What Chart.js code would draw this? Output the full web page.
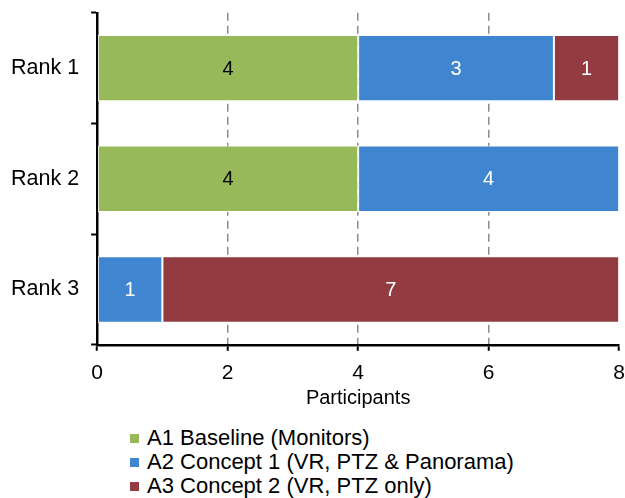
<!DOCTYPE html>
<html>
<head>
<meta charset="utf-8">
<script src="https://cdn.jsdelivr.net/npm/chart.js@4"></script>
<style>
  body { margin: 0; background: #fff; font-family: "Liberation Sans", Arial, sans-serif; overflow: hidden; }
  #wrap { position: relative; width: 625px; height: 498px; overflow: hidden; }
  #chartBox { position: absolute; left: 0; top: -10px; width: 635px; height: 420px; }
  #legend { position: absolute; left: 130px; top: 426px; font-size: 22px; line-height: 24px; color: #000; }
  #legend div { display: flex; align-items: center; white-space: nowrap; }
  #legend span.box { display: inline-block; width: 9px; height: 9px; margin-right: 8px; }
</style>
</head>
<body>
<div id="wrap">
  <div id="chartBox"><canvas id="chart"></canvas></div>
  <div id="legend"></div>
</div>
<script>
const ranks = ['Rank 1', 'Rank 2', 'Rank 3'];
const seriesNames = ['A1 Baseline (Monitors)', 'A2 Concept 1 (VR, PTZ & Panorama)', 'A3 Concept 2 (VR, PTZ only)'];
const a1Values = [4, 4, 0];
const a2Values = [3, 4, 1];
const a3Values = [1, 0, 7];
const xTicks = [0, 2, 4, 6, 8];

const colors = ['#97b95a', '#3f85cf', '#923b41'];
const labelColors = ['#000', '#fff', '#fff'];
const FONT = '"Liberation Sans", Arial, sans-serif';

// draw the value in the middle of each segment
const valueLabels = {
  id: 'valueLabels',
  afterDatasetsDraw(chart) {
    const ctx = chart.ctx;
    ctx.save();
    ctx.font = '20px ' + FONT;
    ctx.textAlign = 'center';
    ctx.textBaseline = 'middle';
    chart.data.datasets.forEach((ds, i) => {
      const meta = chart.getDatasetMeta(i);
      meta.data.forEach((bar, j) => {
        const v = ds.data[j];
        if (!v) return;
        ctx.fillStyle = labelColors[i];
        ctx.fillText(String(v), (bar.x + bar.base) / 2, bar.y + 1);
      });
    });
    ctx.restore();
  }
};

const datasets = [a1Values, a2Values, a3Values].map((vals, i) => ({
  label: seriesNames[i],
  data: vals,
  backgroundColor: colors[i],
  borderColor: '#fff',
  borderWidth: 1,
  borderSkipped: false,
  barPercentage: 0.6,
  categoryPercentage: 1
}));

new Chart(document.getElementById('chart'), {
  type: 'bar',
  data: { labels: ranks, datasets },
  options: {
    indexAxis: 'y',
    responsive: true,
    maintainAspectRatio: false,
    animation: false,
    layout: { padding: { left: -1, right: 0, top: 0, bottom: 0 } },
    plugins: { legend: { display: false }, tooltip: { enabled: false } },
    scales: {
      x: {
        stacked: true,
        min: 0, max: 8,
        afterBuildTicks: s => { s.ticks = xTicks.map(v => ({ value: v })); },
        ticks: { color: '#000', font: { family: FONT, size: 21 }, padding: 10 },
        grid: {
          color: c => (c.index === 0 || c.index === xTicks.length - 1) ? 'rgba(0,0,0,0)' : '#8c8c8c',
          lineWidth: 1.5,
          tickColor: '#000',
          tickLength: 6,
          tickWidth: 2,
          tickBorderDash: []
        },
        border: { color: '#000', width: 2.5, dash: [8, 5] },
        title: { display: true, text: 'Participants', color: '#000', font: { family: FONT, size: 20 }, padding: { top: -10, bottom: 0 } }
      },
      y: {
        stacked: true,
        ticks: { color: '#000', font: { family: FONT, size: 21.5, lineHeight: 1 }, padding: 12 },
        grid: { drawOnChartArea: false, tickColor: '#000', tickLength: 6, tickWidth: 2 },
        border: { color: '#000', width: 2.5 }
      }
    }
  },
  plugins: [valueLabels]
});

// legend, one entry per line
const legend = document.getElementById('legend');
seriesNames.forEach((name, i) => {
  const row = document.createElement('div');
  row.innerHTML = '<span class="box" style="background:' + colors[i] + '"></span>';
  row.appendChild(document.createTextNode(name));
  legend.appendChild(row);
});
</script>
</body>
</html>
